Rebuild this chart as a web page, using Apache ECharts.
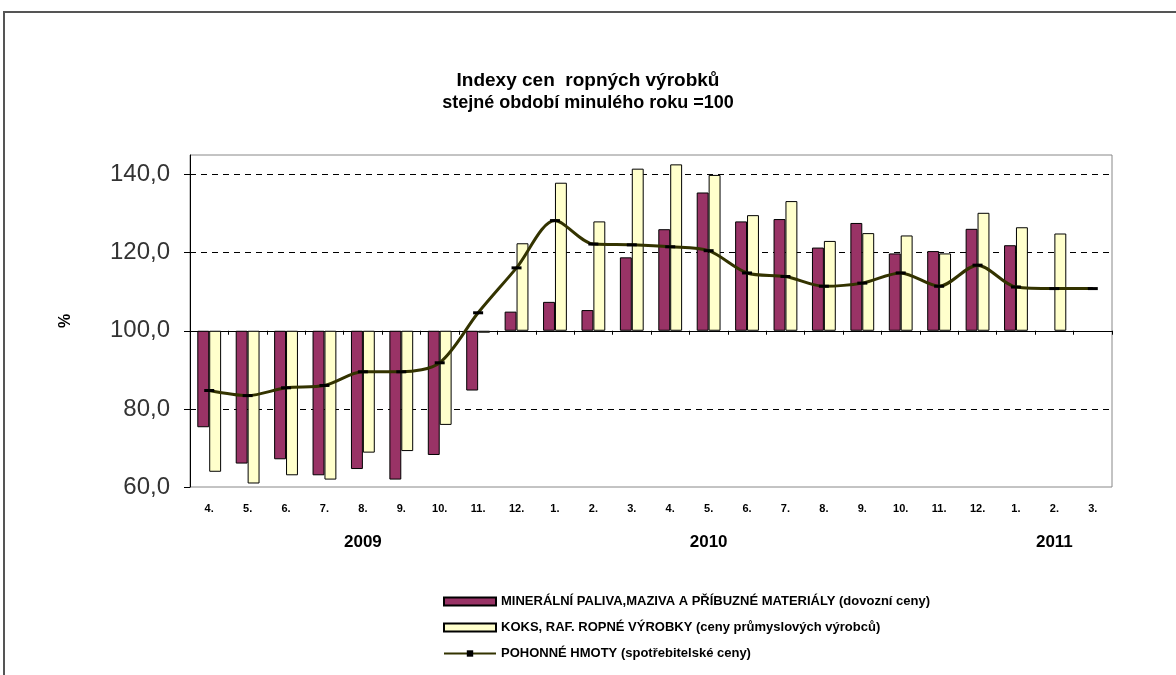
<!DOCTYPE html>
<html>
<head>
<meta charset="utf-8">
<script src="https://cdn.jsdelivr.net/npm/echarts@6/dist/echarts.min.js"></script>
<style>
    html, body { margin: 0; padding: 0; background: #fff; overflow: hidden; }
    #frame { position: absolute; left: 3px; top: 11px; width: 1190px; height: 690px; border: 2px solid #555; }
    #chart { position: absolute; left: 0; top: 0; width: 1176px; height: 675px; }
</style>
</head>
<body>
<div id="frame"></div>
<div id="chart"></div>
<script>
// mesice od 4/2009 do 3/2011
var months = ['4.', '5.', '6.', '7.', '8.', '9.', '10.', '11.', '12.',
    '1.', '2.', '3.', '4.', '5.', '6.', '7.', '8.', '9.', '10.', '11.', '12.',
    '1.', '2.', '3.'];
var years = ['2009', '2010', '2011'];
var yearPos = [4, 13, 22];

var mineral = [75.3, 66.0, 67.1, 63.0, 64.6, 61.9, 68.2, 84.7, 104.9,
    107.4, 105.3, 118.8, 126.0, 135.4, 128.0, 128.6, 121.3, 127.6, 119.8, 120.4, 126.1,
    121.9, null, null];
var koks = [63.9, 60.9, 63.0, 61.9, 68.8, 69.2, 75.9, 99.5, 122.4,
    137.9, 128.0, 141.5, 142.6, 139.9, 129.6, 133.2, 123.0, 125.0, 124.4, 119.8, 130.2,
    126.5, 124.9, null];
var pohonne = [84.7, 83.4, 85.4, 86.0, 89.5, 89.5, 91.8, 104.6, 116.1,
    128.2, 122.2, 122.0, 121.5, 120.5, 114.8, 113.9, 111.4, 112.2, 114.8, 111.4, 116.8,
    111.2, 110.8, 110.8];

var names = ['MINERÁLNÍ PALIVA,MAZIVA A PŘÍBUZNÉ MATERIÁLY (dovozní ceny)',
    'KOKS, RAF. ROPNÉ VÝROBKY (ceny průmyslových výrobců)',
    'POHONNÉ HMOTY (spotřebitelské ceny)'];

var BASE = 100; // sloupce rostou od 100
function shift(arr) {
    return arr.map(function (v) { return v == null ? null : +(v - BASE).toFixed(2); });
}
var yearAxisData = months.map(function () { return ''; });
yearPos.forEach(function (p, i) { yearAxisData[p] = years[i]; });

var myChart = echarts.init(document.getElementById('chart'));
var option = {
    backgroundColor: 'transparent',
    animation: false,
    title: {
        text: 'Indexy cen  ropných výrobků',
        subtext: 'stejné období minulého roku =100',
        left: 'center',
        top: 66,
        itemGap: 4,
        textStyle: { fontFamily: 'Liberation Sans', fontSize: 19, fontWeight: 'bold', color: '#000' },
        subtextStyle: { fontFamily: 'Liberation Sans', fontSize: 18, fontWeight: 'bold', color: '#000' }
    },
    legend: {
        orient: 'vertical',
        left: 438,
        top: 590,
        itemWidth: 52,
        itemHeight: 8,
        itemGap: 13,
        textStyle: { fontFamily: 'Liberation Sans', fontSize: 13, fontWeight: 'bold', color: '#000' },
        data: [
            { name: names[0], icon: 'rect' },
            { name: names[1], icon: 'rect' },
            { name: names[2] }
        ]
    },
    grid: {
        left: 190, right: 64, top: 155, bottom: 188,
        show: true, borderColor: '#888', borderWidth: 1
    },
    xAxis: [
        {
            type: 'category',
            data: months,
            axisLine: { onZero: true, lineStyle: { color: '#000', width: 1 } },
            axisTick: { show: true, length: 4, lineStyle: { color: '#000' } },
            axisLabel: { show: false }
        },
        {
            type: 'category',
            data: months,
            position: 'bottom',
            axisLine: { show: false, onZero: false },
            axisTick: { show: false },
            axisLabel: { margin: 16, fontFamily: 'Liberation Sans', fontSize: 11, fontWeight: 'bold', color: '#000' }
        },
        {
            type: 'category',
            data: yearAxisData,
            position: 'bottom',
            axisLine: { show: false, onZero: false },
            axisTick: { show: false },
            axisLabel: { margin: 47, interval: 0, fontFamily: 'Liberation Sans', fontSize: 17, fontWeight: 'bold', color: '#000' }
        }
    ],
    yAxis: {
        type: 'value',
        min: -40,
        max: 45,
        interval: 20,
        name: '%',
        nameLocation: 'middle',
        nameRotate: 90,
        nameGap: 116,
        nameTextStyle: { fontFamily: 'Liberation Sans', fontSize: 16, fontWeight: 'bold', color: '#000' },
        axisLine: { show: true, lineStyle: { color: '#000' } },
        axisTick: { show: true, length: 6, lineStyle: { color: '#000' } },
        axisLabel: {
            showMaxLabel: false,
            margin: 20,
            fontFamily: 'Liberation Sans', fontSize: 24, color: '#333',
            formatter: function (v) { return (v + BASE).toFixed(1).replace('.', ','); }
        },
        splitLine: {
            show: true, showMinLine: false, showMaxLine: false,
            lineStyle: { color: '#000', type: [6, 5], width: 1 }
        }
    },
    series: [
        {
            name: names[0],
            type: 'bar',
            data: shift(mineral),
            barGap: '0%',
            barCategoryGap: '38%',
            itemStyle: { color: '#993366', borderColor: '#000', borderWidth: 1 }
        },
        {
            name: names[1],
            type: 'bar',
            data: shift(koks),
            itemStyle: { color: '#ffffcc', borderColor: '#000', borderWidth: 1 }
        },
        {
            name: names[2],
            type: 'line',
            data: shift(pohonne),
            smooth: 0.3,
            symbol: 'rect',
            symbolSize: [10, 3],
            lineStyle: { color: '#333300', width: 3 },
            itemStyle: { color: '#000' },
            z: 5
        }
    ]
};
myChart.setOption(option);
</script>
</body>
</html>
